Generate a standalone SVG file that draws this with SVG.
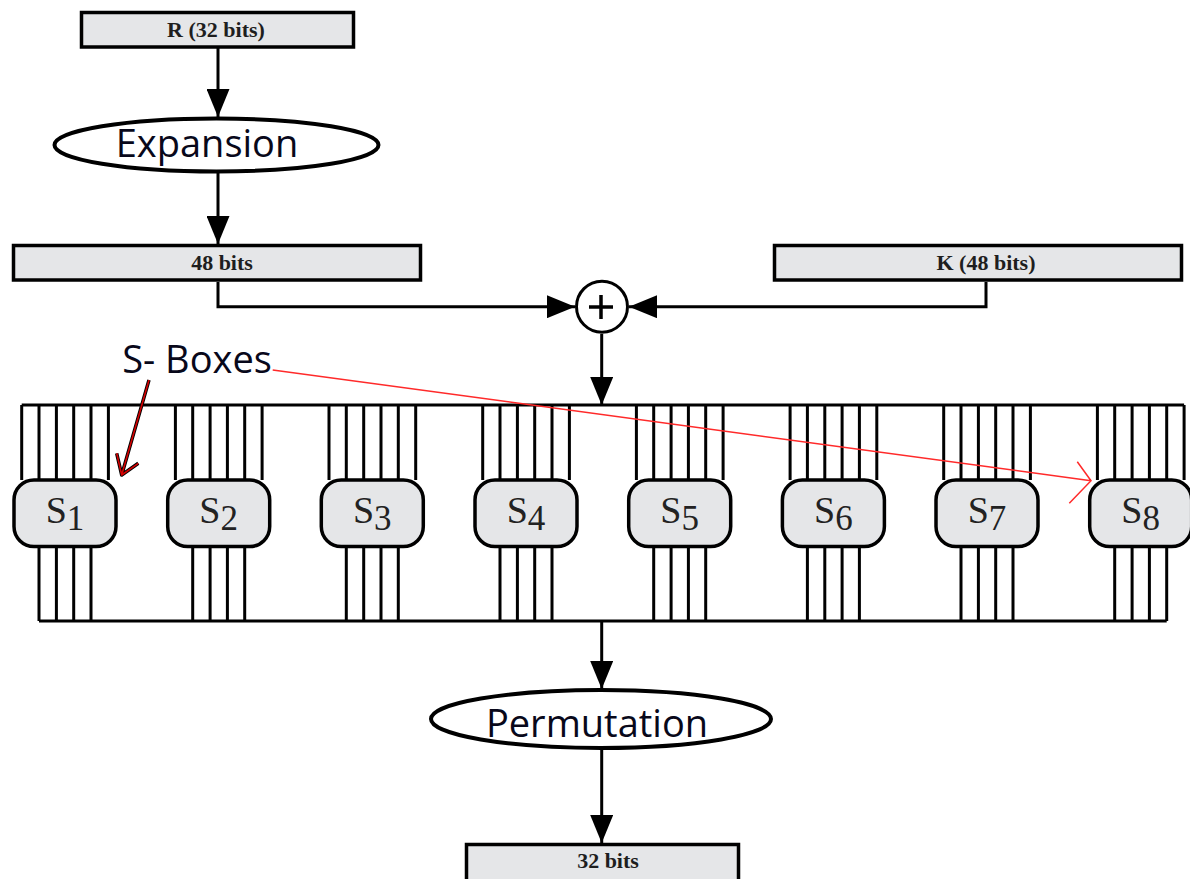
<svg xmlns="http://www.w3.org/2000/svg" xmlns:xlink="http://www.w3.org/1999/xlink" width="1190" height="879" viewBox="0 0 1190 879">
  <style>
    .box { fill: #e5e6e8; stroke: #000; stroke-width: 3.5; }
    .oval { fill: #fff; stroke: #000; stroke-width: 4; }
    .wire { fill: none; stroke: #000; stroke-width: 3; }
    .conn { fill: none; stroke: #000; stroke-width: 3; }
    .boxlabel { font-family: "Liberation Serif", "Times New Roman", serif; font-weight: bold; font-size: 22px; fill: #1e1e1e; text-anchor: middle; }
    .oplabel { font-family: "Open Sans", "Noto Sans", sans-serif; font-size: 38px; fill: #08081a; text-anchor: middle; }
    .slabel { font-family: "Liberation Serif", "Times New Roman", serif; font-size: 38px; fill: #222; text-anchor: middle; }
    .note { fill: none; stroke: #ff2a2a; stroke-width: 1.5; }
  </style>
  <defs>
    <marker id="ah" markerUnits="userSpaceOnUse" viewBox="0 0 28 23" markerWidth="28" markerHeight="23" refX="28" refY="11.5" orient="auto">
      <path d="M0,0 L28,11.5 L0,23 Z" fill="#000"/>
    </marker>
    <!-- one substitution box: 6 input wires, rounded body, 4 output wires -->
    <g id="sbox-shape">
      <path class="wire" d="M0,405 V480 M17.3,405 V480 M34.7,405 V480 M52,405 V480 M69.3,405 V480 M86.7,405 V480 M17.3,546.5 V621 M34.7,546.5 V621 M52,546.5 V621 M69.3,546.5 V621"/>
      <rect class="box" x="-7.7" y="480" width="102" height="66.5" rx="20" ry="20"/>
    </g>
  </defs>

  <rect width="1190" height="879" fill="#fff"/>

  <!-- connectors -->
  <g id="connectors">
    <line class="conn" x1="218" y1="47" x2="218" y2="117" marker-end="url(#ah)"/>
    <line class="conn" x1="218" y1="173" x2="218" y2="244" marker-end="url(#ah)"/>
    <polyline class="conn" points="218,282 218,306.7 575,306.7" marker-end="url(#ah)"/>
    <polyline class="conn" points="986,282 986,306.7 629,306.7" marker-end="url(#ah)"/>
    <line class="conn" x1="601.7" y1="334" x2="601.7" y2="405" marker-end="url(#ah)"/>
    <line class="conn" x1="601.7" y1="621" x2="601.7" y2="689" marker-end="url(#ah)"/>
    <line class="conn" x1="601.7" y1="749" x2="601.7" y2="843" marker-end="url(#ah)"/>
  </g>

  <!-- input and output buses of the S-box layer -->
  <g id="bus">
    <line class="wire" x1="21.7" y1="405" x2="1184.1" y2="405"/>
    <line class="wire" x1="39" y1="621" x2="1166.7" y2="621"/>
  </g>

  <g id="r-block">
    <rect class="box" x="81.5" y="12.5" width="272" height="34.5"/>
    <text class="boxlabel" x="216" y="37">R (32 bits)</text>
  </g>

  <g id="expansion">
    <ellipse class="oval" cx="216.5" cy="145" rx="162" ry="26.5"/>
    <text class="oplabel" x="207" y="157">Expansion</text>
  </g>

  <g id="e-block">
    <rect class="box" x="13.5" y="245.5" width="407" height="34.5"/>
    <text class="boxlabel" x="222" y="270">48 bits</text>
  </g>

  <g id="k-block">
    <rect class="box" x="774.5" y="245.5" width="407" height="34.5"/>
    <text class="boxlabel" x="986" y="270">K (48 bits)</text>
  </g>

  <g id="xor">
    <circle cx="602" cy="306.7" r="25.5" fill="#fff" stroke="#000" stroke-width="3"/>
    <path d="M589,307 H613 M601,295 V319" stroke="#000" stroke-width="3.5" fill="none"/>
  </g>

  <g id="s1" transform="translate(21.7,0)">
    <use xlink:href="#sbox-shape"/>
    <text class="slabel" x="43.3" y="523">S<tspan dy="7" font-size="35">1</tspan></text>
  </g>
  <g id="s2" transform="translate(175.4,0)">
    <use xlink:href="#sbox-shape"/>
    <text class="slabel" x="43.3" y="523">S<tspan dy="7" font-size="35">2</tspan></text>
  </g>
  <g id="s3" transform="translate(329,0)">
    <use xlink:href="#sbox-shape"/>
    <text class="slabel" x="43.3" y="523">S<tspan dy="7" font-size="35">3</tspan></text>
  </g>
  <g id="s4" transform="translate(482.7,0)">
    <use xlink:href="#sbox-shape"/>
    <text class="slabel" x="43.3" y="523">S<tspan dy="7" font-size="35">4</tspan></text>
  </g>
  <g id="s5" transform="translate(636.4,0)">
    <use xlink:href="#sbox-shape"/>
    <text class="slabel" x="43.3" y="523">S<tspan dy="7" font-size="35">5</tspan></text>
  </g>
  <g id="s6" transform="translate(790.1,0)">
    <use xlink:href="#sbox-shape"/>
    <text class="slabel" x="43.3" y="523">S<tspan dy="7" font-size="35">6</tspan></text>
  </g>
  <g id="s7" transform="translate(943.7,0)">
    <use xlink:href="#sbox-shape"/>
    <text class="slabel" x="43.3" y="523">S<tspan dy="7" font-size="35">7</tspan></text>
  </g>
  <g id="s8" transform="translate(1097.4,0)">
    <use xlink:href="#sbox-shape"/>
    <text class="slabel" x="43.3" y="523">S<tspan dy="7" font-size="35">8</tspan></text>
  </g>

  <g id="permutation">
    <ellipse class="oval" cx="601" cy="719" rx="170" ry="29"/>
    <text class="oplabel" x="597" y="737">Permutation</text>
  </g>

  <g id="out-block">
    <rect class="box" x="466.5" y="844.5" width="272" height="40"/>
    <text class="boxlabel" x="608" y="868">32 bits</text>
  </g>

  <!-- hand-drawn annotation -->
  <g id="sbox-note">
    <text class="oplabel" x="197" y="373">S- Boxes</text>
    <path class="note" d="M272.7,370 L1091,480.7 M1077.3,461.7 L1091,480.7 L1069.3,503.3"/>
    <path d="M149,380 L121.7,475 M116.7,453.3 L121.7,475 L138.3,463.3" fill="none" stroke="#000" stroke-width="3.5" stroke-linejoin="round"/>
    <path d="M149,380 L121.7,475 M116.7,453.3 L121.7,475 L138.3,463.3" fill="none" stroke="#d40000" stroke-width="1.6" stroke-linejoin="round"/>
  </g>
</svg>
